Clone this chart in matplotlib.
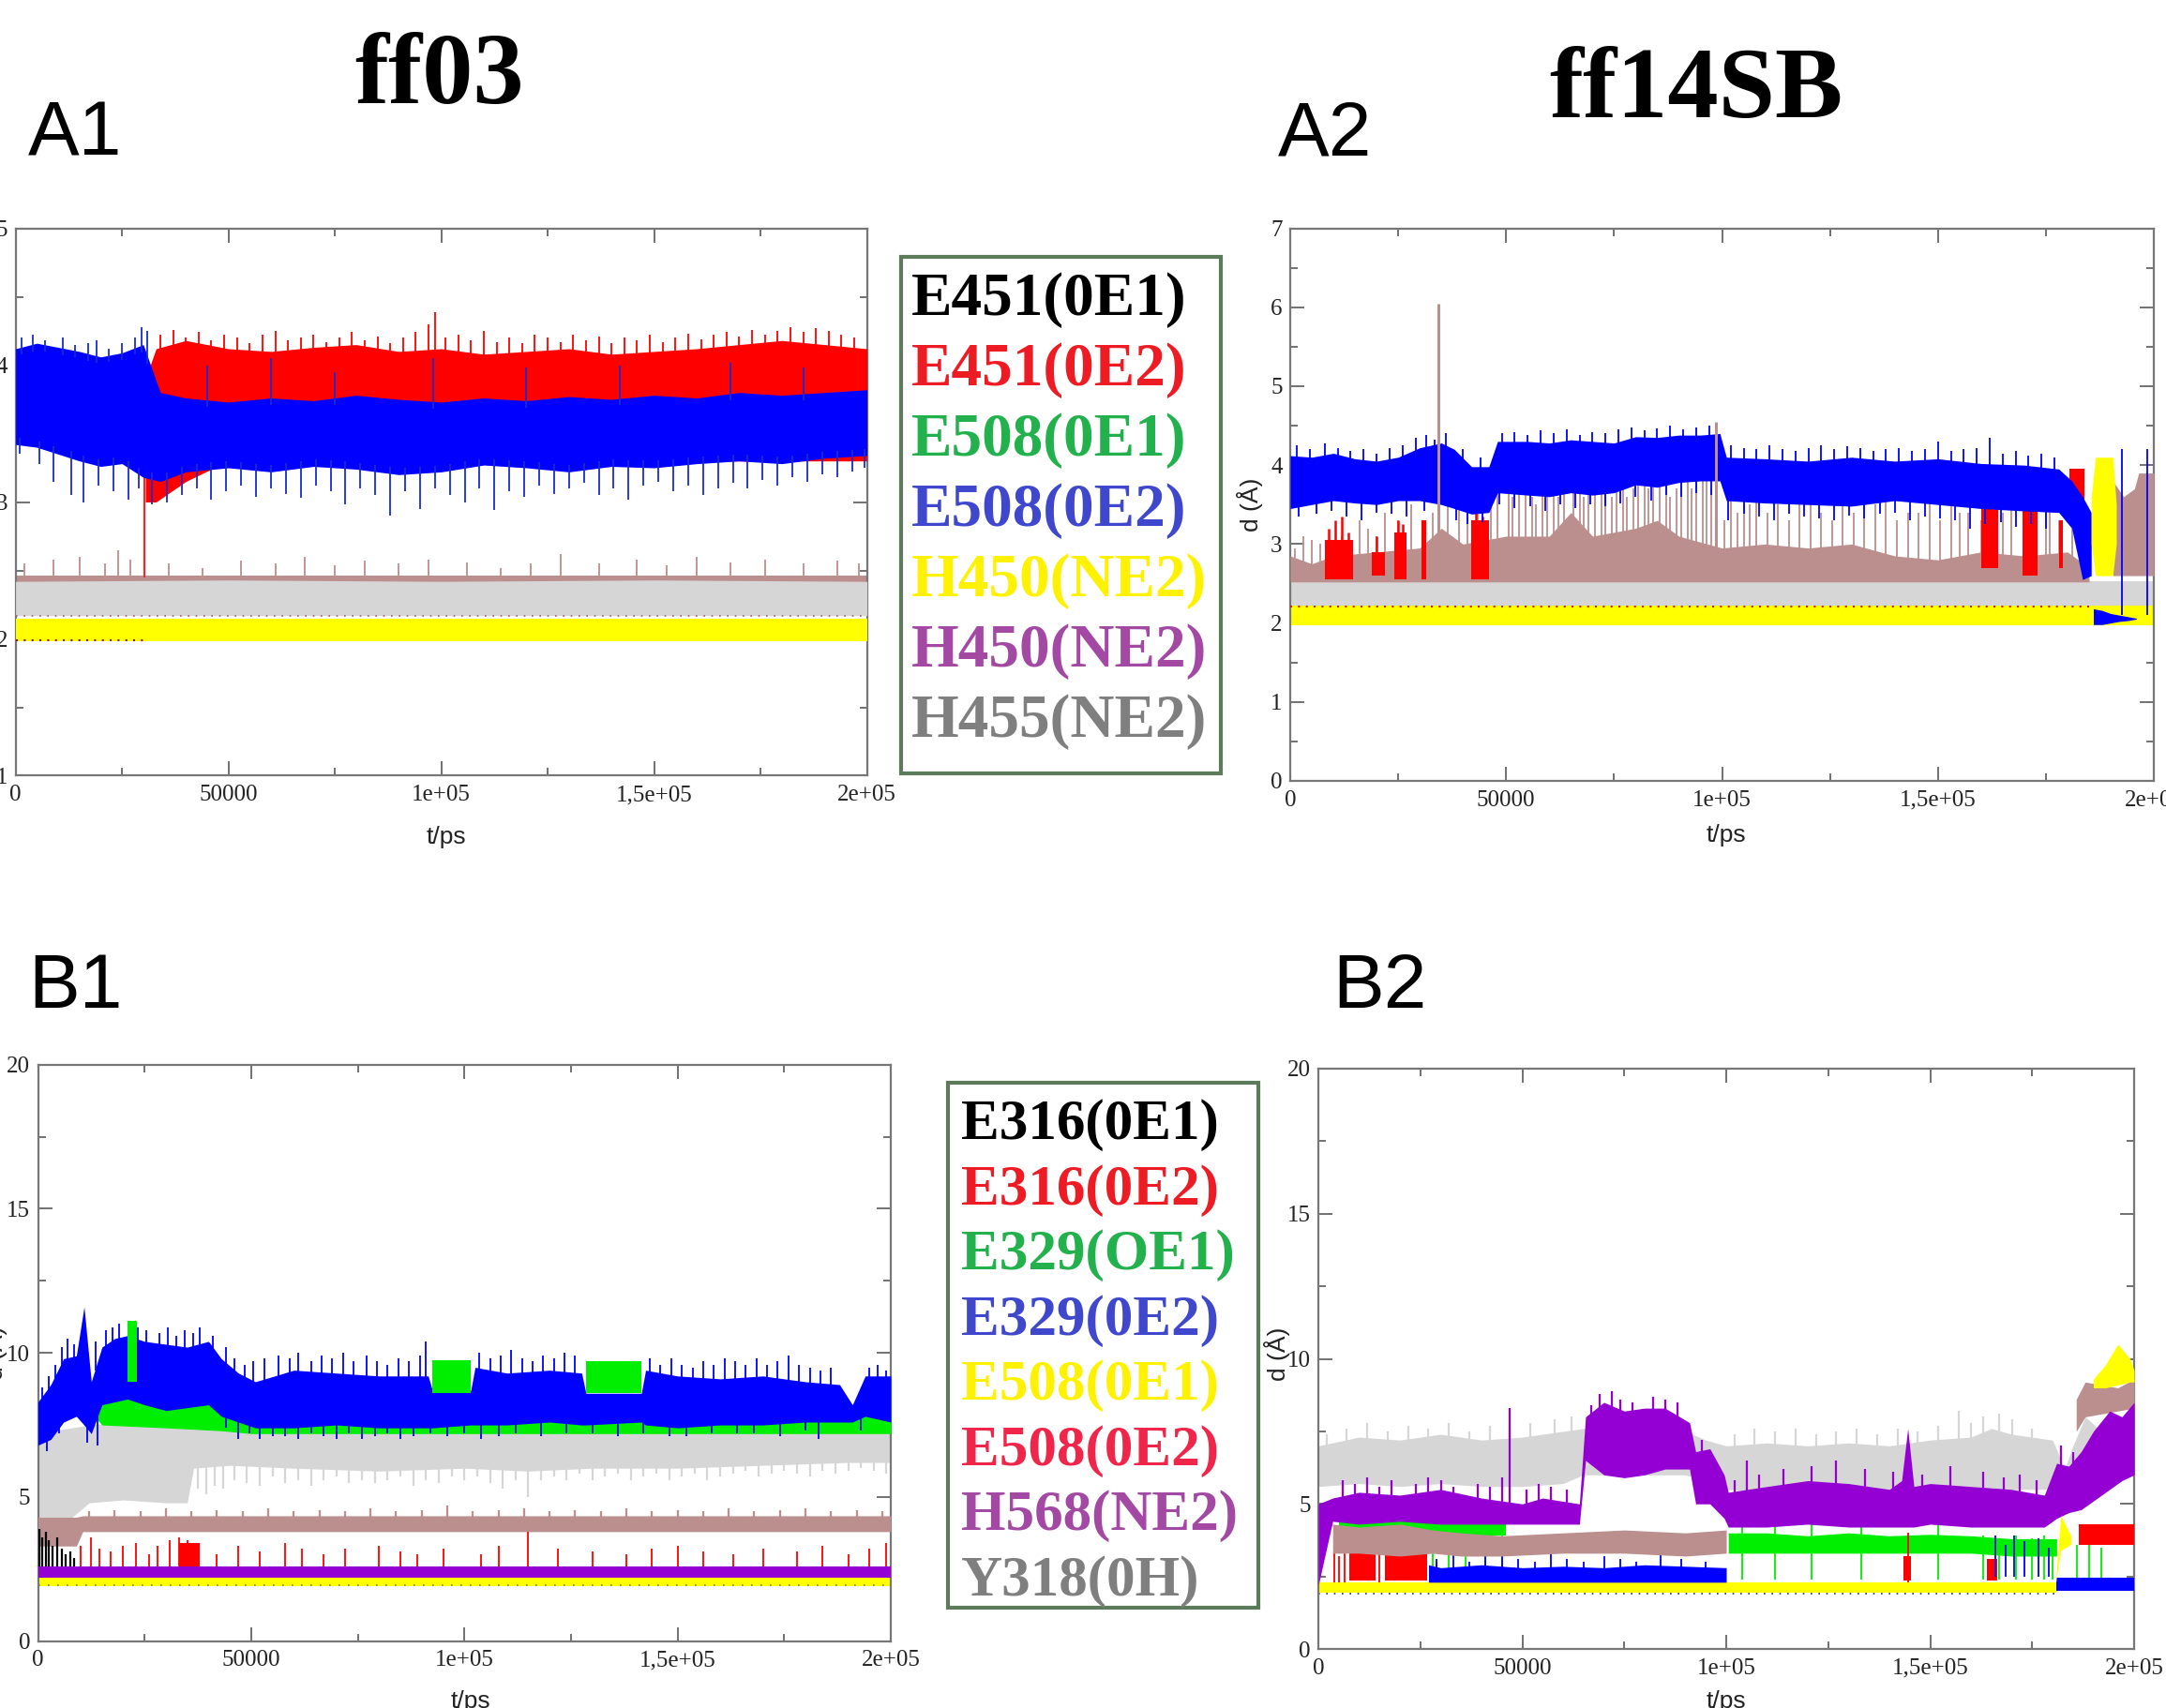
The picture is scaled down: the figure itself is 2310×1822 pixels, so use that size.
import numpy as np
import matplotlib
matplotlib.use('Agg')
import matplotlib.pyplot as plt
from matplotlib.ticker import MultipleLocator, FixedLocator
from matplotlib.patches import Rectangle

# ---------------------------------------------------------------- data
# time axis (ps) ticks
xtick_pos = [0, 50000, 100000, 150000, 200000]
xtick_lab = ['0', '50000', '1e+05', '1,5e+05', '2e+05']

# ---- A1 (ff03), d in Angstrom
a1_blue_t = [0, 5000, 10000, 15000, 20000, 25000, 30000, 34000, 40000, 50000, 60000, 70000, 80000,
             90000, 100000, 110000, 120000, 130000, 140000, 150000, 160000, 170000, 180000, 190000, 200000]
a1_blue_hi = [4.12, 4.16, 4.13, 4.10, 4.06, 4.09, 4.15, 3.80, 3.76, 3.73, 3.76, 3.74, 3.78,
              3.75, 3.73, 3.76, 3.74, 3.77, 3.75, 3.78, 3.76, 3.80, 3.78, 3.80, 3.82]
a1_blue_lo = [3.42, 3.40, 3.35, 3.30, 3.26, 3.28, 3.18, 3.15, 3.22, 3.25, 3.22, 3.26, 3.24,
              3.20, 3.22, 3.27, 3.25, 3.22, 3.26, 3.25, 3.28, 3.30, 3.28, 3.32, 3.34]
a1_blue_dn_t = [1000, 5500, 9000, 13000, 16000, 19500, 23000, 26500, 29000, 32000,
                35500, 39000, 42500, 46000, 49500, 53000, 56500, 60000, 63500, 67000,
                70500, 74000, 77500, 81000, 84500, 88000, 91500, 95000, 98500, 102000,
                105500, 109000, 112500, 116000, 119500, 123000, 126500, 130000, 133500, 137000,
                140500, 144000, 147500, 151000, 154500, 158000, 161500, 165000, 168500, 172000,
                175500, 179000, 182500, 186000, 189500, 193000, 196500, 199500]
a1_blue_dn_y = [3.35, 3.28, 3.15, 3.05, 3.00, 3.12, 3.08, 3.02, 3.10, 2.98,
                3.00, 3.05, 3.10, 3.02, 3.08, 3.12, 3.04, 3.10, 3.06, 3.03,
                3.12, 3.08, 2.98, 3.10, 3.05, 2.90, 3.08, 2.95, 3.10, 3.05,
                3.00, 3.10, 2.94, 3.08, 3.04, 3.12, 3.06, 3.10, 3.14, 3.05,
                3.10, 3.02, 3.12, 3.15, 3.08, 3.12, 3.05, 3.10, 3.14, 3.10,
                3.16, 3.12, 3.18, 3.15, 3.20, 3.18, 3.22, 3.25]
a1_blue_up_t = [1500, 4000, 7000, 11000, 14000, 17000, 19000, 22000, 25000, 28000, 29500, 31000,
                45000, 60000, 75000, 98000, 120000, 142000, 168000, 185000]
a1_blue_up_y = [4.20, 4.22, 4.18, 4.20, 4.15, 4.16, 4.18, 4.12, 4.16, 4.20, 4.28, 4.25,
                4.00, 4.05, 3.95, 4.05, 3.98, 4.00, 4.02, 3.98]

a1_red_t = [30500, 33000, 40000, 50000, 60000, 70000, 80000, 90000, 100000, 110000,
            120000, 130000, 140000, 150000, 160000, 170000, 180000, 190000, 200000]
a1_red_hi = [3.90, 4.12, 4.18, 4.12, 4.10, 4.13, 4.15, 4.10, 4.12, 4.08,
             4.10, 4.12, 4.08, 4.10, 4.12, 4.15, 4.18, 4.15, 4.12]
a1_red_lo = [3.00, 3.00, 3.15, 3.30, 3.30, 3.30, 3.30, 3.30, 3.30, 3.30,
             3.30, 3.30, 3.30, 3.30, 3.30, 3.30, 3.30, 3.30, 3.30]
a1_red_up_t = [34000, 37000, 40000, 43000, 46000, 49000, 52000, 55000, 58000, 61000,
               64000, 67000, 70000, 73000, 76000, 79000, 82000, 85000, 88000, 91000,
               94000, 97000, 98500, 101000, 104000, 107000, 110000, 113000, 116000, 119000,
               122000, 125000, 128000, 131000, 134000, 137000, 140000, 143000, 146000, 149000,
               152000, 155000, 158000, 161000, 164000, 167000, 170000, 173000, 176000, 179000,
               182000, 185000, 188000, 191000, 194000, 197000]
a1_red_up_y = [4.22, 4.26, 4.20, 4.24, 4.18, 4.22, 4.20, 4.16, 4.22, 4.25,
               4.18, 4.20, 4.22, 4.17, 4.20, 4.24, 4.18, 4.21, 4.16, 4.20,
               4.24, 4.30, 4.39, 4.20, 4.22, 4.18, 4.25, 4.17, 4.20, 4.16,
               4.22, 4.20, 4.17, 4.22, 4.18, 4.21, 4.16, 4.20, 4.18, 4.22,
               4.17, 4.20, 4.23, 4.19, 4.22, 4.24, 4.21, 4.26, 4.22, 4.25,
               4.28, 4.24, 4.27, 4.25, 4.22, 4.20]

a1_brown_t = [0, 200000]
a1_brown_lo = [2.30, 2.30]
a1_brown_hi = [2.46, 2.46]
a1_brown_spk_t = [2000, 9000, 15000, 21000, 24000, 27000, 36000, 44000, 53000, 61000, 68000, 75000, 82000, 90000,
                  97000, 106000, 114000, 121000, 128000, 137000, 146000, 153000, 160000, 168000, 176000, 185000, 193000, 198000]
a1_brown_spk_y = [2.55, 2.58, 2.60, 2.55, 2.65, 2.58, 2.55, 2.52, 2.57, 2.55, 2.60, 2.54, 2.57, 2.55,
                  2.58, 2.56, 2.52, 2.55, 2.62, 2.55, 2.58, 2.54, 2.60, 2.56, 2.58, 2.55, 2.57, 2.55]
a1_gray_t = [0, 50000, 100000, 150000, 200000]
a1_gray_lo = [2.17, 2.17, 2.17, 2.17, 2.17]
a1_gray_hi = [2.42, 2.43, 2.42, 2.43, 2.42]
a1_yel_t = [0, 200000]
a1_yel_lo = [1.98, 1.98]
a1_yel_hi = [2.15, 2.15]

# ---- A2 (ff14SB)
a2_blue_t = [0, 5000, 10000, 15000, 20000, 25000, 30000, 35000, 38000, 42000, 46000, 48000, 55000, 60000,
             65000, 70000, 75000, 80000, 85000, 90000, 95000, 99500, 101000, 110000, 120000, 130000, 140000,
             150000, 160000, 170000, 178000, 181000, 183500, 185500]
a2_blue_hi = [4.12, 4.10, 4.15, 4.08, 4.05, 4.10, 4.22, 4.28, 4.20, 3.98, 3.98, 4.30, 4.30, 4.28,
              4.32, 4.30, 4.28, 4.36, 4.35, 4.38, 4.38, 4.40, 4.10, 4.08, 4.05, 4.10, 4.05,
              4.08, 4.02, 4.00, 3.95, 3.80, 3.60, 3.40]
a2_blue_lo = [3.45, 3.50, 3.55, 3.52, 3.50, 3.55, 3.55, 3.50, 3.45, 3.38, 3.40, 3.65, 3.62, 3.60,
              3.65, 3.62, 3.65, 3.75, 3.72, 3.78, 3.80, 3.80, 3.55, 3.52, 3.50, 3.48, 3.55,
              3.50, 3.45, 3.42, 3.40, 3.20, 2.55, 2.60]
a2_blue_up_t = [1500, 4500, 8000, 11000, 14000, 17000, 20000, 23000, 26000, 29000,
                31500, 33500, 36000, 40000, 44000, 49000, 52000, 55000, 58000, 61000,
                64000, 67000, 70000, 73000, 76000, 79000, 82000, 85000, 88000, 91000,
                94000, 97000, 102000, 105000, 108000, 111000, 114000, 117000, 120000, 123000,
                126000, 129000, 132000, 135000, 138000, 141000, 144000, 147000, 150000, 153000,
                156000, 159000, 162000, 165000, 168000, 171000, 174000, 177000]
a2_blue_up_y = [4.25, 4.20, 4.28, 4.22, 4.18, 4.20, 4.15, 4.22, 4.25, 4.35,
                4.38, 4.32, 4.40, 4.20, 4.10, 4.40, 4.42, 4.38, 4.44, 4.40,
                4.45, 4.38, 4.42, 4.40, 4.45, 4.48, 4.44, 4.47, 4.50, 4.45,
                4.48, 4.50, 4.25, 4.22, 4.20, 4.25, 4.20, 4.18, 4.22, 4.25,
                4.20, 4.24, 4.22, 4.18, 4.20, 4.22, 4.18, 4.20, 4.30, 4.18,
                4.20, 4.22, 4.35, 4.15, 4.18, 4.12, 4.15, 4.10]
a2_blue_dn_t = [2000, 6000, 9500, 13000, 16500, 20000, 23500, 27000, 31000, 34500,
                38500, 41000, 44500, 48500, 52000, 55500, 59000, 62500, 66000, 69500,
                73000, 76500, 80000, 83500, 87000, 90500, 94000, 97500, 101500, 105000,
                108500, 112000, 115500, 119000, 122500, 126000, 129500, 133000, 136500, 140000,
                143500, 147000, 150500, 154000, 157500, 161000, 164500, 168000, 171500, 175000]
a2_blue_dn_y = [3.35, 3.38, 3.42, 3.35, 3.30, 3.40, 3.38, 3.35, 3.42, 3.40,
                3.30, 3.25, 3.28, 3.50, 3.45, 3.48, 3.42, 3.50, 3.45, 3.50,
                3.48, 3.52, 3.60, 3.55, 3.62, 3.60, 3.65, 3.62, 3.30, 3.38,
                3.35, 3.30, 3.38, 3.35, 3.32, 3.30, 3.36, 3.32, 3.38, 3.40,
                3.30, 3.35, 3.32, 3.30, 3.20, 3.25, 3.28, 3.22, 3.25, 3.20]
a2_blue2_t = [186000, 188000, 190000, 192000, 194000, 196000]
a2_blue2_lo = [1.98, 1.98, 2.00, 2.02, 2.03, 2.05]
a2_blue2_hi = [2.18, 2.16, 2.12, 2.10, 2.08, 2.06]
a2_blue_line_t = [192600, 198500]
a2_blue_line_y = [4.20, 4.20]

a2_brown_t = [0, 5000, 10000, 20000, 30000, 35000, 40000, 50000, 60000, 65000, 70000, 80000,
              85000, 90000, 100000, 110000, 120000, 130000, 140000, 150000, 160000, 170000, 180000, 185000]
a2_brown_hi = [2.85, 2.75, 2.85, 2.90, 2.95, 3.20, 3.00, 3.10, 3.10, 3.40, 3.10, 3.20,
               3.30, 3.10, 2.95, 3.00, 2.95, 3.00, 2.85, 2.80, 2.90, 2.85, 2.90, 2.70]
a2_brown_lo = 2.52
a2_brown_spk_t = [1000, 3000, 5000, 7000, 9000, 12000, 14000, 16000, 18000, 20000,
                  22000, 25000, 28000, 31000, 33000, 36500, 39000, 41000, 43500, 46500,
                  48000, 50500, 51500, 53000, 54500, 56000, 57000, 58500, 59500, 61000,
                  62000, 63500, 65500, 67000, 68000, 69000, 70500, 72000, 73000, 74500,
                  75500, 77000, 78000, 79500, 80500, 82000, 83000, 84000, 85500, 87000,
                  88000, 89500, 90500, 92000, 93000, 94000, 95500, 96500, 97500, 100500,
                  102000, 103500, 105000, 106500, 108000, 110500, 113000, 115500, 118000, 120500,
                  123000, 125500, 128000, 130500, 133000, 135500, 138000, 140500, 143000, 145500,
                  148000, 150500, 153000, 155000, 157000, 160000, 162500, 165000, 167000, 170000,
                  172500, 175000, 176000, 178000, 181000]
a2_brown_spk_y = [2.95, 3.10, 3.05, 3.00, 2.95, 3.10, 3.00, 3.30, 3.20, 3.10,
                  3.40, 3.30, 3.50, 3.30, 3.40, 3.80, 3.50, 3.60, 3.50, 3.60,
                  3.90, 3.70, 3.60, 3.80, 3.70, 3.60, 3.50, 3.90, 3.80, 3.70,
                  3.60, 4.00, 3.80, 3.90, 3.60, 3.70, 3.90, 3.80, 3.70, 3.60,
                  3.80, 4.00, 3.60, 3.70, 3.80, 3.90, 3.70, 3.80, 3.90, 3.90,
                  3.60, 3.70, 3.80, 4.00, 3.70, 3.80, 3.90, 3.90, 3.70, 3.30,
                  3.60, 3.40, 3.50, 3.50, 3.70, 3.40, 3.50, 3.30, 3.60, 3.50,
                  3.40, 3.30, 3.60, 3.40, 3.50, 3.50, 3.70, 3.30, 3.40, 3.40,
                  3.50, 3.30, 3.60, 3.40, 3.40, 3.30, 3.50, 3.40, 3.60, 3.30,
                  3.50, 3.40, 3.50, 3.30, 3.20]
a2_brown_big_t = [34400, 98500]
a2_brown_big_y = [6.05, 4.55]
a2_brown2_t = [190500, 193000, 195500, 196500, 200000]
a2_brown2_hi = [3.80, 3.60, 3.70, 3.90, 3.90]

a2_red_t0 = [8000, 19000, 24000, 30500, 42000, 160000, 169500, 178000, 180500]
a2_red_t1 = [14500, 22000, 27000, 31500, 46000, 164000, 173000, 179000, 184000]
a2_red_lo = [2.55, 2.60, 2.55, 2.55, 2.55, 2.70, 2.60, 2.70, 3.30]
a2_red_hi = [3.05, 2.90, 3.15, 3.30, 3.30, 3.50, 3.45, 3.30, 3.95]
a2_red_spk_t = [9000, 10500, 12000, 13500, 20000, 25000, 26000, 43000, 44500, 161000, 162500, 170500, 172000]
a2_red_spk_y = [3.20, 3.30, 3.35, 3.15, 3.10, 3.30, 3.25, 3.40, 3.35, 3.70, 3.60, 3.65, 3.55]

a2_gray_lo, a2_gray_hi = 2.22, 2.53
a2_yel_lo, a2_yel_hi = 1.97, 2.22
a2_yel2_t = [185500, 186500, 190500, 191300]
a2_yel2_lo = [3.00, 2.60, 2.60, 3.00]
a2_yel2_hi = [3.60, 4.10, 4.10, 3.50]

# ---- B1 (ff03)
b1_blue_t = [0, 3000, 6000, 9000, 10800, 12500, 15000, 18000, 21000, 25000, 30000, 35000, 40000, 43000,
             47000, 51000, 60000, 70000, 80000, 91500, 92500, 101500, 102500, 110000, 120000, 127500,
             128500, 141500, 142500, 150000, 160000, 170000, 180000, 188000, 191000, 194000, 200000]
b1_blue_hi = [8.3, 8.9, 9.8, 9.9, 11.6, 9.0, 10.2, 10.5, 10.6, 10.4, 10.3, 10.2, 10.4, 9.8,
              9.3, 9.0, 9.4, 9.3, 9.2, 9.2, 8.7, 8.7, 9.5, 9.3, 9.4, 9.3,
              8.6, 8.6, 9.4, 9.2, 9.1, 9.2, 9.0, 8.9, 8.2, 9.2, 9.2]
b1_blue_lo = [6.8, 7.0, 7.6, 7.8, 7.5, 7.2, 8.2, 8.3, 8.4, 8.2, 8.0, 8.1, 8.2, 7.8,
              7.6, 7.4, 7.4, 7.5, 7.4, 7.4, 7.4, 7.5, 7.5, 7.5, 7.6, 7.5,
              7.5, 7.6, 7.5, 7.4, 7.5, 7.5, 7.6, 7.6, 7.6, 7.8, 7.6]
b1_blue_up_t = [1000, 2500, 4000, 5500, 7000, 8500, 13500, 16000, 17500, 19000,
                23500, 25500, 28500, 30500, 32500, 34500, 36500, 38000, 41000, 44000,
                46000, 48500, 50500, 53000, 56500, 59000, 61000, 64000, 66500, 69000,
                71500, 74000, 77000, 79500, 82000, 84500, 87000, 89500, 91000, 103500,
                106000, 108500, 111000, 113500, 116000, 118500, 121000, 123500, 126000, 143500,
                146000, 148500, 151000, 153500, 156000, 158500, 161000, 163500, 166000, 168500,
                171000, 173500, 176000, 178500, 181000, 183500, 186000, 195000, 197000, 199000]
b1_blue_up_y = [8.8, 9.2, 9.6, 10.2, 10.5, 10.3, 10.4, 10.8, 10.9, 11.0,
                10.9, 10.8, 10.7, 10.9, 10.6, 10.8, 10.7, 10.9, 10.6, 10.2,
                9.8, 9.6, 9.7, 9.8, 9.9, 9.8, 10.0, 9.7, 9.9, 9.8,
                10.0, 9.7, 9.9, 9.7, 9.6, 9.8, 9.7, 9.9, 10.4, 10.0,
                9.8, 9.9, 10.1, 9.8, 9.7, 9.9, 9.8, 10.0, 9.9, 9.8,
                9.6, 9.8, 9.6, 9.5, 9.7, 9.6, 9.8, 9.7, 9.6, 9.8,
                9.6, 9.7, 9.9, 9.6, 9.5, 9.4, 9.5, 9.5, 9.6, 9.4]
b1_blue_dn_t = [2000, 5000, 11500, 14000, 44000, 47000, 49500, 52000, 55000, 58000,
                61000, 64000, 67000, 70000, 73000, 76000, 79000, 82000, 85000, 88000,
                92000, 96000, 100000, 104000, 108000, 112000, 118000, 124000, 130000, 136000,
                142000, 148000, 152000, 158000, 164000, 168000, 174000, 180000, 183000, 193000]
b1_blue_dn_y = [6.6, 7.2, 6.9, 6.8, 7.4, 7.0, 7.2, 7.0, 7.1, 7.1,
                7.0, 7.2, 7.1, 7.0, 7.2, 7.0, 7.1, 7.2, 7.0, 7.1,
                7.2, 7.1, 7.2, 7.0, 7.1, 7.2, 7.1, 7.2, 7.2, 7.1,
                7.2, 7.1, 7.1, 7.2, 7.2, 7.2, 7.1, 7.3, 7.0, 7.3]

b1_green_t = [12000, 15000, 30000, 43000, 50000, 200000]
b1_green_lo = [8.0, 7.5, 7.4, 7.3, 7.2, 7.2]
b1_green_hi = [9.0, 9.0, 9.0, 8.6, 8.0, 8.0]
b1_green_top_t0 = [21000, 92500, 128500]
b1_green_top_t1 = [23200, 101500, 141500]
b1_green_top_lo = [9.0, 8.6, 8.6]
b1_green_top_hi = [11.1, 9.75, 9.7]

b1_gray_t = [0, 3000, 8000, 12000, 20000, 30000, 35000, 36500, 45000, 60000, 80000, 100000,
             115000, 130000, 150000, 170000, 190000, 200000]
b1_gray_hi = [7.0, 7.3, 7.4, 7.5, 7.6, 7.5, 7.5, 7.5, 7.5, 7.4, 7.4, 7.4,
              7.4, 7.4, 7.4, 7.4, 7.4, 7.4]
b1_gray_lo = [4.2, 4.0, 4.3, 4.8, 4.9, 4.8, 4.8, 6.0, 6.1, 6.0, 5.9, 6.0,
              5.9, 6.0, 6.0, 6.1, 6.2, 6.2]
b1_gray_dn_t = [37500, 39500, 41500, 43500, 46000, 49000, 52000, 55000, 58000, 61000,
                64000, 67000, 70000, 73000, 76000, 79000, 82000, 85000, 88000, 91000,
                94000, 97000, 100000, 103000, 106000, 109000, 112000, 115000, 118000, 121000,
                124000, 127000, 130000, 133000, 136000, 139000, 142000, 145000, 148000, 151000,
                154000, 157000, 160000, 163000, 166000, 169000, 172000, 175000, 178000, 181000,
                184000, 187000, 190000, 193000, 196000, 199000]
b1_gray_dn_y = [5.3, 5.1, 5.4, 5.3, 5.6, 5.5, 5.4, 5.7, 5.5, 5.6,
                5.4, 5.6, 5.7, 5.5, 5.6, 5.5, 5.6, 5.7, 5.4, 5.6,
                5.5, 5.7, 5.6, 5.7, 5.5, 5.3, 5.6, 5.0, 5.6, 5.7,
                5.6, 5.8, 5.6, 5.7, 5.8, 5.6, 5.7, 5.8, 5.6, 5.7,
                5.8, 5.6, 5.7, 5.8, 5.9, 5.7, 5.8, 5.9, 5.8, 5.7,
                5.9, 5.8, 5.9, 6.0, 5.9, 5.8]

b1_brown_t = [0, 9000, 10500, 200000]
b1_brown_lo = [3.3, 3.3, 3.8, 3.8]
b1_brown_hi = [4.3, 4.3, 4.35, 4.35]
b1_brown_spk_t = [12000, 18000, 24000, 30000, 36000, 42000, 48000, 54000, 60000, 66000,
                  72000, 78000, 84000, 90000, 96000, 102000, 108000, 114000, 120000, 126000,
                  132000, 138000, 144000, 150000, 156000, 162000, 168000, 174000, 180000, 186000,
                  192000, 198000]
b1_brown_spk_y = [4.50, 4.55, 4.50, 4.60, 4.50, 4.55, 4.50, 4.60, 4.50, 4.55,
                  4.50, 4.60, 4.50, 4.55, 4.70, 4.50, 4.55, 4.60, 4.50, 4.55,
                  4.50, 4.60, 4.50, 4.55, 4.50, 4.60, 4.50, 4.55, 4.60, 4.50,
                  4.55, 4.50]

b1_black_t = [300, 1000, 1800, 2600, 3500, 4500, 5500, 6500, 7500, 8500]
b1_black_y = [3.9, 3.6, 3.8, 3.5, 3.3, 3.6, 3.2, 3.0, 3.1, 2.9]
b1_red_t = [10000, 12500, 14500, 17000, 20000, 23000, 26000, 28000, 31000, 33000, 35000, 37000, 42000,
            47000, 52000, 58000, 62000, 67000, 72000, 80000, 85000, 89000, 95000, 104000, 108000,
            115000, 122000, 130000, 138000, 144000, 150000, 156000, 163000, 170000, 178000, 184000,
            190000, 195000, 199000]
b1_red_y = [3.3, 3.6, 3.2, 3.1, 3.3, 3.4, 3.0, 3.3, 3.5, 3.6, 3.5, 3.2, 3.0,
            3.3, 3.1, 3.4, 3.2, 3.0, 3.2, 3.3, 3.1, 3.0, 3.2, 3.0, 3.3,
            3.8, 3.2, 3.1, 3.0, 3.2, 3.3, 3.1, 3.0, 3.2, 3.1, 3.3,
            3.0, 3.2, 3.4]
b1_purple_lo, b1_purple_hi = 2.2, 2.6
b1_yel_lo, b1_yel_hi = 1.92, 2.2

# ---- B2 (ff14SB)
b2_gray_t = [0, 10000, 20000, 30000, 40000, 50000, 60000, 65000, 70000, 80000, 90000, 95000, 100000,
             110000, 120000, 130000, 140000, 150000, 160000, 165000, 170000, 180000, 183000, 185000,
             188000, 192000]
b2_gray_hi = [7.0, 7.3, 7.2, 7.4, 7.2, 7.3, 7.5, 7.6, 7.5, 7.5, 7.5, 7.2, 7.0,
              7.1, 7.0, 7.1, 7.0, 7.2, 7.3, 7.6, 7.4, 7.2, 6.2, 7.0, 8.0, 7.5]
b2_gray_lo = [5.6, 5.7, 5.6, 5.7, 5.6, 5.6, 5.7, 6.0, 6.0, 6.0, 6.0, 5.8, 5.5,
              5.4, 5.4, 5.4, 5.4, 5.4, 5.5, 5.5, 5.5, 5.5, 5.3, 5.5, 6.5, 6.5]
b2_gray_up_t = [2000, 7000, 12000, 17000, 22000, 27000, 32000, 37000, 42000, 47000,
                52000, 58000, 62000, 102000, 107000, 112000, 117000, 122000, 127000, 132000,
                137000, 142000, 147000, 152000, 157000, 160000, 163000, 167000, 170000, 175000]
b2_gray_up_y = [7.4, 7.6, 7.8, 7.5, 7.7, 7.6, 7.8, 7.5, 7.7, 7.6,
                7.8, 7.9, 8.0, 7.4, 7.6, 7.5, 7.6, 7.4, 7.5, 7.6,
                7.4, 7.6, 7.5, 7.7, 8.2, 7.8, 8.0, 8.1, 7.9, 7.6]

b2_purple_t = [0, 3500, 10000, 20000, 30000, 40000, 50000, 55000, 64000, 65500, 70000, 75000, 80000,
               85000, 91000, 92500, 96000, 99500, 100500, 110000, 120000, 130000, 140000, 143000,
               144500, 146000, 150000, 160000, 170000, 178000, 181000, 184000, 187000, 190000,
               194000, 197000, 200000]
b2_purple_hi = [5.0, 5.2, 5.4, 5.3, 5.5, 5.2, 5.0, 5.2, 5.0, 8.0, 8.5, 8.2, 8.3,
                8.3, 7.8, 6.8, 6.9, 6.0, 5.4, 5.6, 5.8, 5.7, 5.5, 5.8,
                7.6, 5.6, 5.7, 5.6, 5.5, 5.3, 6.4, 6.3, 6.8, 7.5,
                8.2, 8.0, 8.5]
b2_purple_lo = [2.2, 4.4, 4.3, 4.4, 4.3, 4.3, 4.3, 4.3, 4.3, 6.5, 6.0, 5.9, 6.0,
                6.2, 6.2, 5.0, 5.0, 4.5, 4.2, 4.2, 4.3, 4.2, 4.2, 4.2,
                4.2, 4.2, 4.3, 4.2, 4.2, 4.2, 4.5, 4.7, 4.8, 5.1,
                5.5, 5.8, 6.0]
b2_purple_up_t = [6000, 9000, 12000, 15000, 18000, 24000, 27000, 30000, 33000, 39000,
                  42000, 45000, 47000, 51000, 54000, 57000, 61000, 67000, 69000, 72000,
                  74000, 77000, 82000, 85000, 88000, 94000, 97000, 102000, 105000, 108000,
                  114000, 121000, 127000, 134000, 141000, 148000, 155000, 163000, 168000, 172000,
                  176000, 182000, 185000]
b2_purple_up_y = [5.8, 5.7, 5.9, 5.6, 5.8, 5.7, 5.9, 5.8, 5.6, 5.7,
                  5.6, 5.9, 8.3, 5.5, 5.7, 5.6, 5.5, 8.4, 8.8, 8.9,
                  8.6, 8.5, 8.7, 8.6, 8.5, 7.2, 6.5, 5.8, 6.5, 6.0,
                  6.2, 6.3, 6.5, 6.2, 6.1, 6.0, 6.3, 6.1, 5.9, 6.0,
                  5.8, 7.0, 6.8]

b2_brown_t = [3500, 10000, 20000, 28000, 35000, 45000, 60000, 75000, 90000, 100000]
b2_brown_lo = [3.3, 3.3, 3.2, 3.3, 3.2, 3.2, 3.3, 3.3, 3.2, 3.3]
b2_brown_hi = [4.3, 4.2, 4.3, 4.1, 4.0, 3.9, 4.0, 4.1, 4.0, 4.1]
b2_brown2_t = [185800, 188000, 192000, 196000, 200000]
b2_brown2_lo = [7.5, 8.0, 8.1, 8.2, 8.3]
b2_brown2_hi = [8.6, 9.2, 9.1, 9.0, 9.3]

b2_green_t = [5000, 46000, 100500, 110000, 120000, 130000, 140000, 150000, 160000, 170000, 181000]
b2_green_lo = [3.9, 3.9, 3.3, 3.3, 3.3, 3.3, 3.3, 3.3, 3.3, 3.2, 3.2]
b2_green_hi = [4.4, 4.4, 4.0, 4.0, 3.9, 4.0, 3.9, 3.95, 3.9, 3.8, 3.8]
b2_green_spk_t = [28000, 32000, 36000, 41000, 45000, 104000, 112000, 121000, 133000, 152000,
                  163000, 167000, 171000, 175000, 178000, 180000, 186000, 189000, 192000]
b2_green_spk_y = [4.0, 3.8, 4.1, 3.9, 4.0, 4.3, 4.2, 4.3, 4.2, 4.3,
                  3.9, 3.8, 3.9, 3.8, 3.9, 3.7, 3.6, 4.0, 3.5]

b2_red_t0 = [7500, 16400, 143500, 164000, 186500]
b2_red_t1 = [14000, 26700, 145400, 166500, 200000]
b2_red_lo = [2.35, 2.35, 2.35, 2.35, 3.6]
b2_red_hi = [3.6, 3.35, 3.2, 3.1, 4.3]
b2_red_spk_t = [3800, 5000, 6500, 15000, 29000, 48000, 144500]
b2_red_spk_y = [3.8, 3.2, 3.6, 3.9, 3.0, 2.8, 4.0]

b2_blue_t = [27000, 30000, 40000, 50000, 60000, 70000, 80000, 90000, 100000]
b2_blue_hi = [2.9, 2.8, 2.9, 2.8, 2.85, 2.8, 2.9, 2.85, 2.8]
b2_blue_lo = 2.3
b2_blue2_t = [181000, 200000]
b2_blue2_lo = [2.0, 2.0]
b2_blue2_hi = [2.45, 2.45]
b2_blue_spk_t = [29000, 33000, 37000, 41000, 45000, 49000, 53000, 57000, 61000, 65000,
                 70000, 74000, 78000, 84000, 89000, 95000, 166000, 168500, 170500, 173000,
                 176500, 179000]
b2_blue_spk_y = [3.1, 3.3, 3.0, 3.2, 3.2, 3.1, 3.0, 3.4, 3.1, 3.0,
                 3.2, 3.1, 3.0, 3.3, 3.1, 3.0, 3.9, 3.6, 3.9, 3.7,
                 3.8, 3.5]

b2_yel_t = [0, 181000]
b2_yel_lo = [1.95, 1.95]
b2_yel_hi = [2.3, 2.3]
b2_yel2_t = [180800, 182000, 184500]
b2_yel2_lo = [2.3, 3.4, 3.6]
b2_yel2_hi = [2.4, 4.6, 3.9]
b2_yel3_t = [190000, 193000, 196000, 199000, 200000]
b2_yel3_lo = [9.0, 9.0, 9.1, 9.2, 9.2]
b2_yel3_hi = [9.3, 9.8, 10.5, 10.0, 9.6]

# legends
leg_a = ['E451(0E1)', 'E451(0E2)', 'E508(0E1)', 'E508(0E2)', 'H450(NE2)', 'H450(NE2)', 'H455(NE2)']
leg_a_col = ['#000000', '#ed1c24', '#22b14c', '#3f48cc', '#fff200', '#a349a4', '#7f7f7f']
leg_b = ['E316(0E1)', 'E316(0E2)', 'E329(OE1)', 'E329(0E2)', 'E508(0E1)', 'E508(0E2)', 'H568(NE2)', 'Y318(0H)']
leg_b_col = ['#000000', '#ed1c24', '#22b14c', '#3f48cc', '#fff200', '#f0254a', '#a349a4', '#7f7f7f']

# ---------------------------------------------------------------- style
BLUE = '#0000ff'; RED = '#ff0000'; GREEN = '#00ee00'; YEL = '#ffff00'
GRAY = '#d6d6d6'; BROWN = '#bc8f8f'; PURPLE = '#9400d3'; BLACK = '#000000'
SERIF = 'Liberation Serif'
SANS = 'Liberation Sans'
plt.rcParams['font.family'] = SERIF

W, H = 2310, 1822
fig = plt.figure(figsize=(W / 100, H / 100), dpi=100)


def make_axes(l, t, r, b, ylim, ymajor, yminor):
    ax = fig.add_axes([l / W, 1 - b / H, (r - l) / W, (b - t) / H])
    ax.set_xlim(0, 200000)
    ax.set_ylim(*ylim)
    ax.xaxis.set_major_locator(FixedLocator(xtick_pos))
    ax.set_xticklabels(xtick_lab)
    ax.xaxis.set_minor_locator(MultipleLocator(25000))
    ax.yaxis.set_major_locator(MultipleLocator(ymajor))
    ax.yaxis.set_minor_locator(MultipleLocator(yminor))
    ax.tick_params(which='both', direction='in', top=True, right=True, color='#666666', width=1.3,
                   labelcolor='#222222', labelsize=18)
    ax.tick_params(which='major', length=11)
    ax.tick_params(which='minor', length=6)
    ax.tick_params(axis='x', pad=7)
    ax.tick_params(axis='y', pad=6)
    for s in ax.spines.values():
        s.set_color('#777777')
        s.set_linewidth(1.6)
    return ax


def band(ax, t, lo, hi, c, z):
    ax.fill_between(t, lo, hi, color=c, lw=0, zorder=z)


def spikes(ax, t, tips, base, c, z, lw=1.3):
    ax.vlines(t, base, tips, colors=c, lw=lw, zorder=z)


def edge(t, band_t, band_y):
    # start each spike on the band edge it leaves
    return np.interp(t, band_t, band_y)


def blocks(ax, t0, t1, lo, hi, c, z):
    for a, b, l, h in zip(t0, t1, lo, hi):
        ax.fill_between([a, b], l, h, color=c, lw=0, zorder=z)


def px(x, y):
    return x / W, 1 - y / H


# ---------------------------------------------------------------- A1
ax = make_axes(16.6, 243.5, 924.6, 827.5, (1, 5), 1, 0.5)
band(ax, a1_brown_t, a1_brown_lo, a1_brown_hi, BROWN, 2)
spikes(ax, a1_brown_spk_t, a1_brown_spk_y, 2.40, BROWN, 2)
band(ax, a1_gray_t, a1_gray_lo, a1_gray_hi, GRAY, 3)
band(ax, a1_yel_t, a1_yel_lo, a1_yel_hi, YEL, 3)
ax.plot([0, 30000], [1.99, 1.99], color='#8b1a1a', lw=1.5, ls=(0, (1, 3)), zorder=4)
ax.plot([0, 200000], [2.17, 2.17], color='#a06060', lw=1.2, ls=(0, (1, 4)), zorder=4)
band(ax, a1_red_t, a1_red_lo, a1_red_hi, RED, 5)
spikes(ax, a1_red_up_t, a1_red_up_y, edge(a1_red_up_t, a1_red_t, a1_red_hi) - 0.05, RED, 5)
spikes(ax, [30200], [2.45], 3.6, '#e03030', 5, lw=1.6)
band(ax, a1_blue_t, a1_blue_lo, a1_blue_hi, BLUE, 6)
spikes(ax, a1_blue_dn_t, a1_blue_dn_y, edge(a1_blue_dn_t, a1_blue_t, a1_blue_lo) + 0.05, '#1a2ccc', 6)
spikes(ax, a1_blue_up_t, a1_blue_up_y, edge(a1_blue_up_t, a1_blue_t, a1_blue_hi) - 0.05, '#1a2ccc', 6)

# ---------------------------------------------------------------- A2
ax = make_axes(1376, 243.5, 2297, 833, (0, 7), 1, 0.5)
ax.axhspan(a2_gray_lo, a2_gray_hi, color=GRAY, lw=0, zorder=2)
ax.axhspan(a2_yel_lo, a2_yel_hi, color=YEL, lw=0, zorder=2)
ax.plot([0, 185000], [2.21, 2.21], color='#c02020', lw=1.5, ls=(0, (1, 3)), zorder=3)
band(ax, a2_brown_t, a2_brown_lo, a2_brown_hi, BROWN, 3)
spikes(ax, a2_brown_spk_t, a2_brown_spk_y, 2.7, BROWN, 3)
band(ax, a2_brown2_t, 2.6, a2_brown2_hi, BROWN, 3)
blocks(ax, a2_red_t0, a2_red_t1, a2_red_lo, a2_red_hi, RED, 4)
spikes(ax, a2_red_spk_t, a2_red_spk_y, 2.8, RED, 4, lw=1.8)
band(ax, a2_blue_t, a2_blue_lo, a2_blue_hi, BLUE, 5)
spikes(ax, a2_blue_up_t, a2_blue_up_y, edge(a2_blue_up_t, a2_blue_t, a2_blue_hi) - 0.05, BLUE, 5)
spikes(ax, a2_blue_dn_t, a2_blue_dn_y, edge(a2_blue_dn_t, a2_blue_t, a2_blue_lo) + 0.05, BLUE, 5)
band(ax, a2_blue2_t, a2_blue2_lo, a2_blue2_hi, BLUE, 5)
spikes(ax, a2_blue_line_t, a2_blue_line_y, 2.1, BLUE, 5)
band(ax, a2_yel2_t, a2_yel2_lo, a2_yel2_hi, YEL, 6)
spikes(ax, a2_brown_big_t, a2_brown_big_y, 2.8, BROWN, 7, lw=2.2)

# ---------------------------------------------------------------- B1
ax = make_axes(40.5, 1135.7, 950, 1750.7, (0, 20), 5, 2.5)
ax.axhspan(b1_yel_lo, b1_yel_hi, color=YEL, lw=0, zorder=2)
ax.plot([0, 200000], [1.95, 1.95], color='#777700', lw=1.2, ls=(0, (1, 5)), zorder=2)
band(ax, b1_gray_t, b1_gray_lo, b1_gray_hi, GRAY, 2)
spikes(ax, b1_gray_dn_t, b1_gray_dn_y, edge(b1_gray_dn_t, b1_gray_t, b1_gray_lo) + 0.1, GRAY, 2, lw=1.6)
band(ax, b1_brown_t, b1_brown_lo, b1_brown_hi, BROWN, 3)
spikes(ax, b1_brown_spk_t, b1_brown_spk_y, 4.2, BROWN, 3, lw=1.6)
spikes(ax, b1_black_t, b1_black_y, 2.55, BLACK, 4, lw=1.6)
spikes(ax, b1_red_t, b1_red_y, 2.55, RED, 4)
ax.fill_between([33000, 38000], 2.5, 3.4, color=RED, lw=0, zorder=4)
ax.axhspan(b1_purple_lo, b1_purple_hi, color=PURPLE, lw=0, zorder=5)
band(ax, b1_green_t, b1_green_lo, b1_green_hi, GREEN, 5)
band(ax, b1_blue_t, b1_blue_lo, b1_blue_hi, BLUE, 6)
spikes(ax, b1_blue_up_t, b1_blue_up_y, edge(b1_blue_up_t, b1_blue_t, b1_blue_hi) - 0.1, BLUE, 6)
spikes(ax, b1_blue_dn_t, b1_blue_dn_y, edge(b1_blue_dn_t, b1_blue_t, b1_blue_lo) + 0.1, BLUE, 6)
blocks(ax, b1_green_top_t0, b1_green_top_t1, b1_green_top_lo, b1_green_top_hi, GREEN, 7)

# ---------------------------------------------------------------- B2
ax = make_axes(1406, 1140, 2276, 1759, (0, 20), 5, 2.5)
band(ax, b2_yel_t, b2_yel_lo, b2_yel_hi, YEL, 2)
ax.plot([0, 181000], [1.9, 1.9], color='#333333', lw=1.2, ls=(0, (1, 4)), zorder=2)
band(ax, b2_gray_t, b2_gray_lo, b2_gray_hi, GRAY, 2)
spikes(ax, b2_gray_up_t, b2_gray_up_y, edge(b2_gray_up_t, b2_gray_t, b2_gray_hi) - 0.1, GRAY, 2, lw=1.6)
band(ax, b2_green_t[:2], b2_green_lo[:2], b2_green_hi[:2], GREEN, 3)
band(ax, b2_green_t[2:], b2_green_lo[2:], b2_green_hi[2:], GREEN, 3)
spikes(ax, b2_green_spk_t, b2_green_spk_y, 2.4, GREEN, 3)
blocks(ax, b2_red_t0, b2_red_t1, b2_red_lo, b2_red_hi, RED, 4)
spikes(ax, b2_red_spk_t, b2_red_spk_y, 2.3, RED, 4)
band(ax, b2_blue_t, b2_blue_lo, b2_blue_hi, BLUE, 5)
spikes(ax, b2_blue_spk_t, b2_blue_spk_y, 2.5, BLUE, 5)
band(ax, b2_blue2_t, b2_blue2_lo, b2_blue2_hi, BLUE, 7)
band(ax, b2_brown_t, b2_brown_lo, b2_brown_hi, BROWN, 6)
band(ax, b2_brown2_t, b2_brown2_lo, b2_brown2_hi, BROWN, 6)
band(ax, b2_purple_t, b2_purple_lo, b2_purple_hi, PURPLE, 7)
spikes(ax, b2_purple_up_t, b2_purple_up_y, edge(b2_purple_up_t, b2_purple_t, b2_purple_hi) - 0.2, PURPLE, 7,
       lw=1.6)
band(ax, b2_yel2_t, b2_yel2_lo, b2_yel2_hi, YEL, 8)
band(ax, b2_yel3_t, b2_yel3_lo, b2_yel3_hi, YEL, 8)

# ---------------------------------------------------------------- labels
for x, y in [(476, 893), (1841, 891), (502, 1815), (1841, 1815)]:
    fig.text(*px(x, y), 't/ps', family=SANS, fontsize=19, ha='center', va='center', color='#222222')
for x, y in [(1333, 538), (1362, 1444), (-6, 1443)]:
    fig.text(*px(x, y), 'd (Å)', family=SANS, fontsize=19, rotation=90, ha='center', va='center',
             color='#222222')

for s, x, y in [('A1', 30, 166), ('A2', 1363, 166), ('B1', 30, 1075), ('B2', 1421, 1075)]:
    fig.text(*px(x, y), s, family=SANS, fontsize=59, ha='left', va='baseline')
fig.text(*px(469, 110), 'ff03', fontsize=78, fontweight='bold', ha='center', va='baseline')
fig.text(*px(1809, 125), 'ff14SB', fontsize=78, fontweight='bold', ha='center', va='baseline')

# legend boxes
fig.patches.append(Rectangle(px(961, 825), (1302 - 961) / W, (825 - 274) / H, transform=fig.transFigure,
                             fill=False, ec='#5b7b5b', lw=3))
for i, (s, c) in enumerate(zip(leg_a, leg_a_col)):
    fig.text(*px(972, 336 + i * 75), s, color=c, fontsize=47, fontweight='bold', va='baseline')
fig.patches.append(Rectangle(px(1011, 1715), (1342 - 1011) / W, (1715 - 1155) / H, transform=fig.transFigure,
                             fill=False, ec='#5b7b5b', lw=3))
for i, (s, c) in enumerate(zip(leg_b, leg_b_col)):
    fig.text(*px(1025, 1215 + i * 69.5), s, color=c, fontsize=44, fontweight='bold', va='baseline')

fig.savefig('out.png', dpi=100)
